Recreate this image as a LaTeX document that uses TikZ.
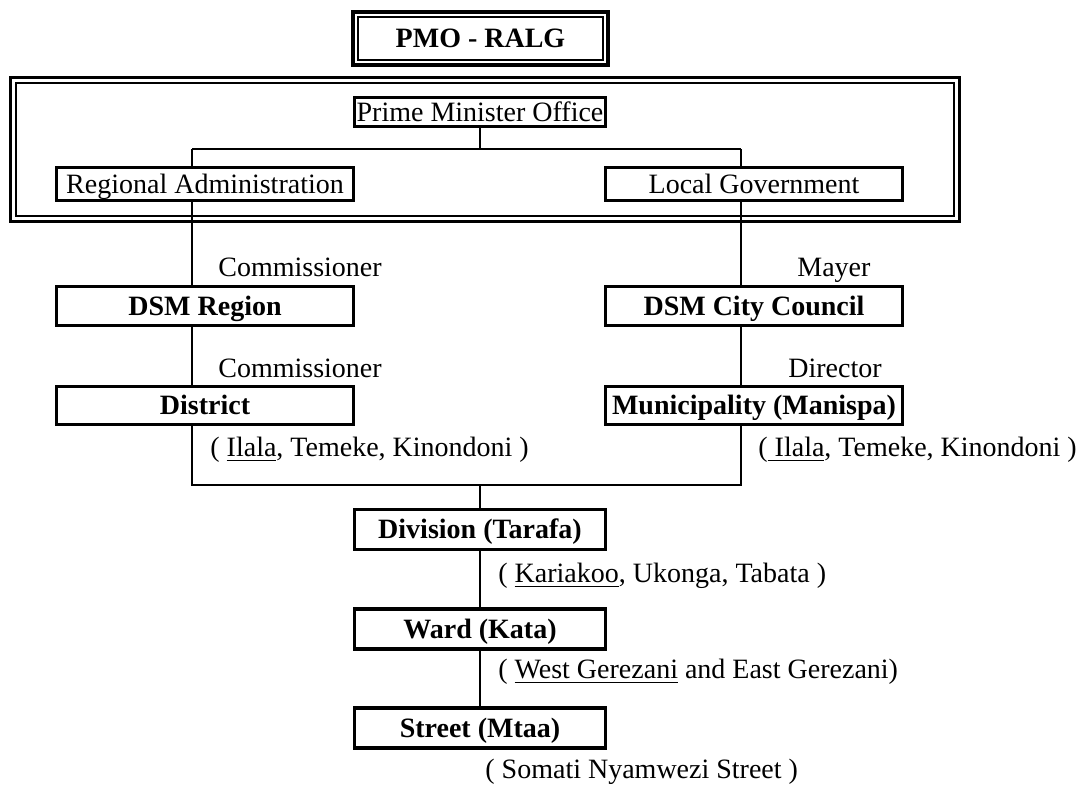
\documentclass[tikz,border=0pt]{standalone}
\usepackage{fontspec}
\setmainfont{Liberation Serif}

\begin{document}
\begin{tikzpicture}[x = 0.5pt, y = -0.5pt]
	\tikzstyle{boxStyle} = [draw, line width = 1.6pt, inner sep = 0pt, outer sep = 0pt, text height = 11.5pt, text depth = 2.2pt, font = {\fontsize{14}{16}\selectfont\bfseries}]
	\tikzstyle{sideStyle} = [boxStyle, minimum width = 148.5pt, minimum height = 19.5pt]
	\tikzstyle{midStyle} = [boxStyle, minimum width = 125.5pt, minimum height = 20pt]
	\tikzstyle{thinStyle} = [boxStyle, minimum height = 16.5pt, font = {\fontsize{14}{16}\selectfont}]
	\tikzstyle{noteStyle} = [inner sep = 0pt, anchor = base west, font = {\fontsize{14}{16}\selectfont}]
	\tikzstyle{linkStyle} = [line width = 1.35pt]
	\useasboundingbox (0,0) rectangle (1083,785);
	% top title
	\node[boxStyle, line width = 2pt, minimum width = 127.5pt, minimum height = 26.5pt] (pmo) at (480.5,38.5) {PMO - RALG};
	\draw[line width = 0.75pt] ([shift={(5,5)}]pmo.north west) rectangle ([shift={(-5,-5)}]pmo.south east);
	% ministry frame
	\draw[line width = 1.5pt] (10.5,77.5) rectangle (959.5,221.5);
	\draw[line width = 1pt] (16,83) rectangle (954,216);
	\node[thinStyle, minimum width = 125.5pt, minimum height = 14.5pt] (office) at (480,112) {Prime Minister Office};
	\node[thinStyle, minimum width = 148.5pt] (reg) at (205,184) {Regional Administration};
	\node[thinStyle, minimum width = 148.5pt] (loc) at (754,184) {Local Government};
	% two columns
	\node[sideStyle] (dsmr) at (205,306) {DSM Region};
	\node[sideStyle] (dsmc) at (754,306) {DSM City Council};
	\node[sideStyle, minimum height = 19pt] (dist) at (205,405.5) {District};
	\node[sideStyle, minimum height = 19pt] (muni) at (754,405.5) {Municipality (Manispa)};
	% centre column
	\node[midStyle] (div) at (480,529.5) {Division (Tarafa)};
	\node[midStyle] (ward) at (480,629) {Ward (Kata)};
	\node[midStyle] (street) at (480,728) {Street (Mtaa)};
	% notes
	\node[noteStyle] (n1) at (218,277) {Commissioner};
	\node[noteStyle] (n2) at (797,277) {Mayer};
	\node[noteStyle] (n3) at (218,378) {Commissioner};
	\node[noteStyle] (n4) at (788,378) {Director};
	\node[noteStyle] (n5) at (210,457) {( \underline{Ilala}, Temeke, Kinondoni )};
	\node[noteStyle] (n6) at (758,457) {(\underline{\ Ilala}, Temeke, Kinondoni )};
	\node[noteStyle] (n7) at (498,583) {( \underline{Kariakoo}, Ukonga, Tabata )};
	\node[noteStyle] (n8) at (498,679) {( \underline{West Gerezani} and East Gerezani)};
	\node[noteStyle] (n9) at (485,779) {( Somati Nyamwezi Street )};
	% connectors
	\coordinate (splitL) at (192,149);
	\coordinate (splitR) at (741,149);
	\coordinate (joinL) at (192,485);
	\coordinate (joinR) at (741,485);
	\draw[linkStyle] (office.south) -- (office.south |- splitL);
	\draw[linkStyle] (splitL) -- (splitR);
	\draw[linkStyle] (splitL) -- (splitL |- reg.north);
	\draw[linkStyle] (splitR) -- (splitR |- loc.north);
	\draw[linkStyle] (splitL |- reg.south) -- (splitL |- dsmr.north);
	\draw[linkStyle] (splitR |- loc.south) -- (splitR |- dsmc.north);
	\draw[linkStyle] (splitL |- dsmr.south) -- (splitL |- dist.north);
	\draw[linkStyle] (splitR |- dsmc.south) -- (splitR |- muni.north);
	\draw[linkStyle] (splitL |- dist.south) -- (joinL) -- (joinR) -- (splitR |- muni.south);
	\draw[linkStyle] (div.north |- joinL) -- (div.north);
	\draw[linkStyle] (div.south) -- (ward.north);
	\draw[linkStyle] (ward.south) -- (street.north);
\end{tikzpicture}
\end{document}
